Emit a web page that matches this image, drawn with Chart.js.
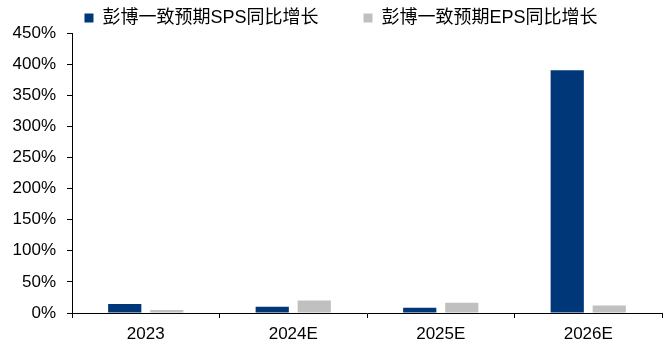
<!DOCTYPE html>
<html>
<head>
<meta charset="utf-8">
<script src="https://cdn.jsdelivr.net/npm/chart.js@4.4.0/dist/chart.umd.min.js"></script>
<style>
  html, body { margin: 0; padding: 0; background: #fff; }
  #wrap { width: 663px; height: 345px; position: relative; }
</style>
</head>
<body>
<div id="wrap"><canvas id="chart"></canvas></div>
<script>
// 类目与数据（%）
const categories = ['2023', '2024E', '2025E', '2026E'];
const spsGrowth = [14.5, 10, 8.5, 390];
const epsGrowth = [5, 20, 16.5, 12];
const seriesNames = ['彭博一致预期SPS同比增长', '彭博一致预期EPS同比增长'];

const fontFamily = '"Liberation Sans", Arial, "Noto Sans CJK SC", sans-serif';

// 固定图例高度，并把图例整体略向右移
const legendHeight = {
    id: 'legendHeight',
    beforeInit(chart) {
        const fit = chart.legend.fit;
        chart.legend.fit = function () {
            fit.bind(chart.legend)();
            this.height = 33;
        };
    },
    afterLayout(chart) {
        chart.legend.left = 20;
    }
};

const ctx = document.getElementById('chart').getContext('2d');
new Chart(ctx, {
    type: 'bar',
    data: {
        labels: categories,
        datasets: [{
            label: seriesNames[0],
            data: spsGrowth,
            backgroundColor: '#003778',
            categoryPercentage: 0.57,
            barPercentage: 0.79
        }, {
            label: seriesNames[1],
            data: epsGrowth,
            backgroundColor: '#c0c0c0',
            categoryPercentage: 0.57,
            barPercentage: 0.79
        }]
    },
    options: {
        responsive: true,
        maintainAspectRatio: false,
        animation: false,
        layout: { padding: { left: 0, right: 1, top: 0, bottom: 0 } },
        scales: {
            x: {
                grid: {
                    offset: true,
                    drawOnChartArea: false,
                    drawTicks: true,
                    tickLength: 5,
                    color: '#000'
                },
                border: { color: '#000', width: 1 },
                ticks: {
                    color: '#000',
                    padding: 6,
                    font: { family: fontFamily, size: 17 }
                },
                afterFit(scale) { scale.height = 32; }
            },
            y: {
                min: 0,
                max: 450,
                grid: {
                    drawOnChartArea: false,
                    drawTicks: true,
                    tickLength: 5,
                    color: '#000'
                },
                border: { color: '#000', width: 1 },
                ticks: {
                    stepSize: 50,
                    color: '#000',
                    padding: 11,
                    font: { family: fontFamily, size: 17 },
                    callback: function (value) {
                        return value + '%';
                    }
                },
                afterFit(scale) { scale.width = 72; }
            }
        },
        plugins: {
            legend: {
                position: 'top',
                labels: {
                    boxWidth: 9,
                    boxHeight: 9,
                    padding: 9,
                    color: '#000',
                    font: { family: fontFamily, size: 18 },
                    generateLabels(chart) {
                        const items = Chart.defaults.plugins.legend.labels.generateLabels(chart);
                        // 两个图例项之间留出较宽的间距
                        items[0].text = items[0].text + '\u3000\u3000';
                        return items;
                    }
                }
            },
            tooltip: { enabled: false }
        }
    },
    plugins: [legendHeight]
});
</script>
</body>
</html>
